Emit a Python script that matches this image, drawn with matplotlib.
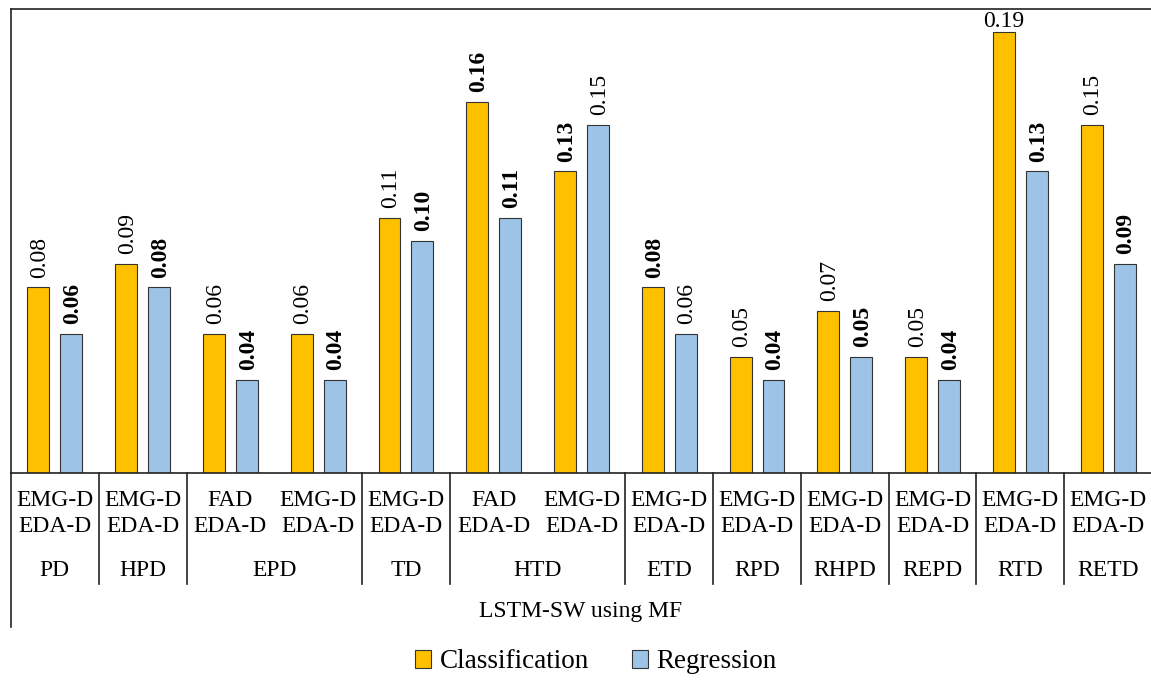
import matplotlib
matplotlib.use("Agg")
import matplotlib.pyplot as plt
from matplotlib.patches import Patch

plt.rcParams['font.family'] = ['Liberation Serif', 'DejaVu Serif']

# Category labels (two-line inner label + outer group)
modality_top = ["EMG-D", "EMG-D", "FAD", "EMG-D", "EMG-D", "FAD", "EMG-D",
                "EMG-D", "EMG-D", "EMG-D", "EMG-D", "EMG-D", "EMG-D"]
modality_bottom = ["EDA-D"] * 13
groups = ["PD", "HPD", "EPD", "EPD", "TD", "HTD", "HTD",
          "ETD", "RPD", "RHPD", "REPD", "RTD", "RETD"]

classification = [0.08, 0.09, 0.06, 0.06, 0.11, 0.16, 0.13,
                  0.08, 0.05, 0.07, 0.05, 0.19, 0.15]
regression = [0.06, 0.08, 0.04, 0.04, 0.10, 0.11, 0.15,
              0.06, 0.04, 0.05, 0.04, 0.13, 0.09]
classification_bold = [False, False, False, False, False, True, True,
                       True, False, False, False, False, False]
regression_bold = [True, True, True, True, True, True, False,
                   False, True, True, True, True, True]

axis_title = "LSTM-SW using MF"
series_names = ["Classification", "Regression"]
colors = ["#FFC000", "#9DC3E6"]

W, H = 1151, 680
fig = plt.figure(figsize=(W / 100, H / 100), dpi=100)
ax_left, ax_bottom_px, ax_top_px, ax_right = 11, 473, 9, 1152
ax = fig.add_axes([ax_left / W, 1 - ax_bottom_px / H,
                   (ax_right - ax_left) / W, (ax_bottom_px - ax_top_px) / H])

n = len(groups)
ymax = 0.2
ax.set_xlim(0, n)
ax.set_ylim(0, ymax)
bw = 0.25
off = 0.1875
xs = [i + 0.5 for i in range(n)]

bars_c = ax.bar([x - off for x in xs], classification, width=bw,
                color=colors[0], edgecolor="#333333", linewidth=0.8)
bars_r = ax.bar([x + off for x in xs], regression, width=bw,
                color=colors[1], edgecolor="#333333", linewidth=0.8)

label_len = 0.022
for bars, vals, bolds in ((bars_c, classification, classification_bold),
                          (bars_r, regression, regression_bold)):
    for b, v, bd in zip(bars, vals, bolds):
        cx = b.get_x() + b.get_width() / 2
        weight = "bold" if bd else "normal"
        if v + label_len > ymax:
            ax.annotate(f"{v:.2f}", (cx, v), xytext=(0, 0),
                        textcoords="offset points", ha="center", va="bottom",
                        fontsize=17, weight=weight)
        else:
            ax.annotate(f"{v:.2f}", (cx, v), xytext=(1, 7),
                        textcoords="offset points", ha="center", va="bottom",
                        rotation=90, fontsize=17, weight=weight)

ax.set_xticks([])
ax.set_yticks([])
ax.spines["right"].set_visible(False)
for s in ("top", "left", "bottom"):
    ax.spines[s].set_linewidth(1.2)
    ax.spines[s].set_color("#222222")

trans = ax.get_xaxis_transform()
axh = ax_bottom_px - ax_top_px
def yfrac(px):
    return -(px - ax_bottom_px) / axh

for x, t1, t2 in zip(xs, modality_top, modality_bottom):
    ax.text(x, yfrac(500), t1, transform=trans, ha="center", va="center", fontsize=17)
    ax.text(x, yfrac(527), t2, transform=trans, ha="center", va="center", fontsize=17)

# Group spans and separators
spans = []
start = 0
for i in range(1, n + 1):
    if i == n or groups[i] != groups[start]:
        spans.append((start, i, groups[start]))
        start = i
for a, b, g in spans:
    ax.text((a + b) / 2, yfrac(571), g, transform=trans, ha="center",
            va="center", fontsize=17)
    if a > 0:
        ax.plot([a, a], [0, yfrac(584)], transform=trans, color="#222222",
                lw=1.2, clip_on=False)
ax.plot([0, 0], [0, yfrac(627)], transform=trans, color="#222222",
        lw=1.2, clip_on=False)

ax.text(n / 2 * (ax_right - ax_left - 2) / (ax_right - ax_left), yfrac(611),
        axis_title, transform=trans, ha="center", va="center", fontsize=17)

handles = [Patch(facecolor=c, edgecolor="#333333", linewidth=0.8) for c in colors]
fig.legend(handles, series_names, loc="center", bbox_to_anchor=(596 / W, 1 - 662 / H),
           ncol=2, frameon=False, fontsize=19.5, handlelength=0.6, handleheight=0.6,
           handletextpad=0.3, columnspacing=1.6)

fig.savefig("out.png", dpi=100)
